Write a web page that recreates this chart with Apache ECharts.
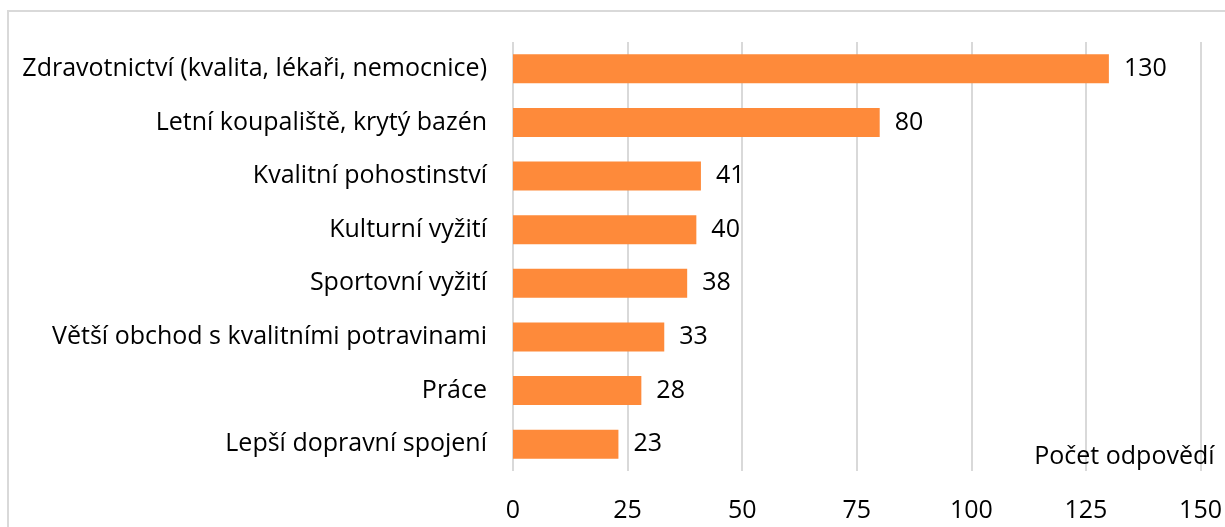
<!DOCTYPE html>
<html><head><meta charset="utf-8">
<script src="https://cdn.jsdelivr.net/npm/echarts@6/dist/echarts.min.js"></script>
<style>html,body{margin:0;padding:0;background:#fff}#c{width:1225px;height:527px}</style>
</head><body><div id="c"></div>
<script>
const categories = ["Zdravotnictví (kvalita, lékaři, nemocnice)","Letní koupaliště, krytý bazén","Kvalitní pohostinství","Kulturní vyžití","Sportovní vyžití","Větší obchod s kvalitními potravinami","Práce","Lepší dopravní spojení"];
const values = [130,80,41,40,38,33,28,23];
const axisName = "Počet odpovědí";
const xMin = 0, xMax = 150, xStep = 25;

const chart = echarts.init(document.getElementById('c'), null, {renderer:'canvas'});
const font = "'Open Sans', sans-serif";
const fs = 25;
chart.setOption({
  animation:false,
  textStyle:{fontFamily:font},
  graphic:[{type:'rect',shape:{x:8,y:11,width:1400,height:700},style:{fill:'none',stroke:'#D9D9D9',lineWidth:2},silent:true,z:-1}],
  grid:{left:513,right:24,top:42,bottom:56,containLabel:false},
  xAxis:{type:'value',min:xMin,max:xMax,interval:xStep,
    name:axisName,nameLocation:'end',nameGap:14,
    nameTextStyle:{fontSize:fs,color:'#000',fontFamily:font,align:'right',verticalAlign:'bottom',padding:[0,0,2,0]},
    axisLine:{show:false},axisTick:{show:false},
    axisLabel:{fontSize:fs,color:'#000',fontFamily:font,margin:27},
    splitLine:{lineStyle:{color:'#D9D9D9',width:2}}},
  yAxis:{type:'category',data:categories,inverse:true,
    axisLine:{show:false},axisTick:{show:false},
    axisLabel:{fontSize:fs,color:'#000',fontFamily:font,margin:26}},
  series:[{type:'bar',data:values,barCategoryGap:'46%',
    itemStyle:{color:'#FE8A3A'},
    label:{show:true,position:'right',distance:15,fontSize:fs,color:'#000',fontFamily:font}}]
});
</script></body></html>
